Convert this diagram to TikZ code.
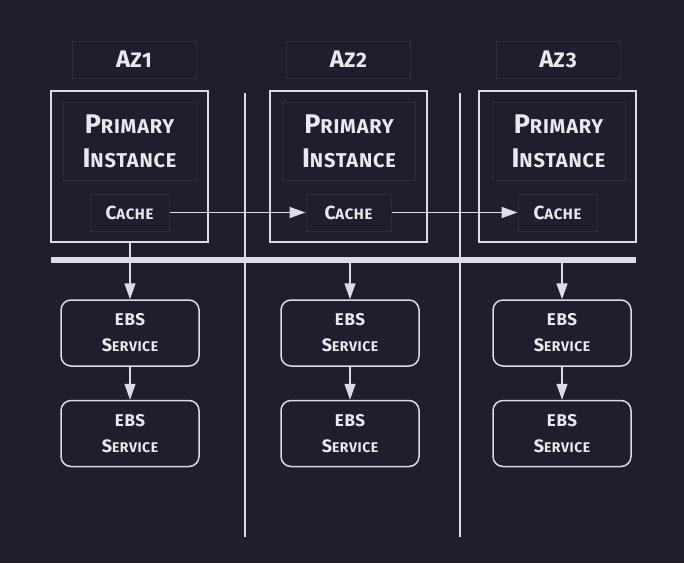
\documentclass[tikz,border=0pt]{standalone}
\usepackage{fontspec}
\setmainfont{Fira Sans}[LetterSpace=4]
\usetikzlibrary{arrows.meta}
\definecolor{bg}{HTML}{1E1E2C}
\definecolor{ln}{HTML}{DCDCE4}
\definecolor{faint}{HTML}{2C2C3A}
\definecolor{txt}{HTML}{E8E8EE}
\newcommand{\fsz}[1]{\fontsize{#1}{#1}\selectfont}
\tikzset{
  azbox/.style={draw=faint, line width=1pt, minimum width=124pt, minimum height=37pt, inner sep=0pt, text=txt, font=\bfseries},
  outerbox/.style={draw=ln, line width=1.8pt, minimum width=157pt, minimum height=151pt, inner sep=0pt},
  primbox/.style={draw=faint, line width=1pt, minimum width=133pt, minimum height=78pt, inner sep=0pt, text=txt, align=center, font=\bfseries},
  cachebox/.style={draw=faint, line width=1pt, minimum height=37pt, inner sep=0pt, text=txt, font=\bfseries},
  ebsbox/.style={draw=ln, line width=1.5pt, rounded corners=10pt, minimum width=138pt, minimum height=66pt, inner sep=0pt, text=txt, align=center, font=\bfseries},
  conn/.style={draw=ln, line width=1.5pt, -{Triangle[length=16pt,width=11pt]}},
  divider/.style={draw=ln, line width=1.2pt},
}
\newcommand{\primtxt}{\fsz{27}P\fsz{20}RIMARY\\[14pt]\fsz{27}I\fsz{20}NSTANCE}
\newcommand{\cachetxt}{\fsz{19}C\fsz{15}ACHE}
\newcommand{\ebstxt}{\fsz{17}EBS\\[12pt]\fsz{18}S\fsz{14}ERVICE}
\begin{document}
\begin{tikzpicture}[x=1pt,y=-1pt]
\fill[bg] (0,0) rectangle (684,563);
\useasboundingbox (0,0) rectangle (684,563);
% dividers
\coordinate (v1t) at (245,93); \coordinate (v1b) at (245,537);
\coordinate (v2t) at (460,93); \coordinate (v2b) at (460,537);
\draw[divider] (v1t) -- (v1b);
\draw[divider] (v2t) -- (v2b);
% AZ labels
\node[azbox] (az1) at (134,59.5) {\fsz{24}A\fsz{21}Z1};
\node[azbox] (az2) at (348.5,59.5) {\fsz{24}A\fsz{21}Z2};
\node[azbox] (az3) at (558,59.5) {\fsz{24}A\fsz{21}Z3};
% outer boxes
\node[outerbox] (outer1) at (129.5,166.5) {};
\node[outerbox] (outer2) at (348.5,166.5) {};
\node[outerbox] (outer3) at (557.5,166.5) {};
% primary
\node[primbox] (prim1) at (129.5,141) {\primtxt};
\node[primbox] (prim2) at (349,141) {\primtxt};
\node[primbox] (prim3) at (558.5,141) {\primtxt};
% caches
\node[cachebox, minimum width=79pt] (cache1) at (129.5,212.5) {\cachetxt};
\node[cachebox, minimum width=85pt] (cache2) at (348.5,212.5) {\cachetxt};
\node[cachebox, minimum width=79pt] (cache3) at (557.5,212.5) {\cachetxt};
\draw[conn] (cache1.east) -- (cache2.west);
\draw[conn] (cache2.east) -- (cache3.west);
% bar
\node[fill=ln, minimum width=585pt, minimum height=6.5pt, inner sep=0pt] (bar) at (343.5,260) {};
% EBS
\node[ebsbox] (e11) at (130,333) {\ebstxt};
\node[ebsbox] (e12) at (130,433.5) {\ebstxt};
\node[ebsbox] (e21) at (350,333) {\ebstxt};
\node[ebsbox] (e22) at (350,433.5) {\ebstxt};
\node[ebsbox] (e31) at (562,333) {\ebstxt};
\node[ebsbox] (e32) at (562,433.5) {\ebstxt};
\draw[conn] (e11.north |- outer1.south) -- (e11.north);
\draw[conn] (e21.north |- bar.south) -- (e21.north);
\draw[conn] (e31.north |- bar.south) -- (e31.north);
\draw[conn] (e11.south) -- (e12.north);
\draw[conn] (e21.south) -- (e22.north);
\draw[conn] (e31.south) -- (e32.north);
\end{tikzpicture}
\end{document}
